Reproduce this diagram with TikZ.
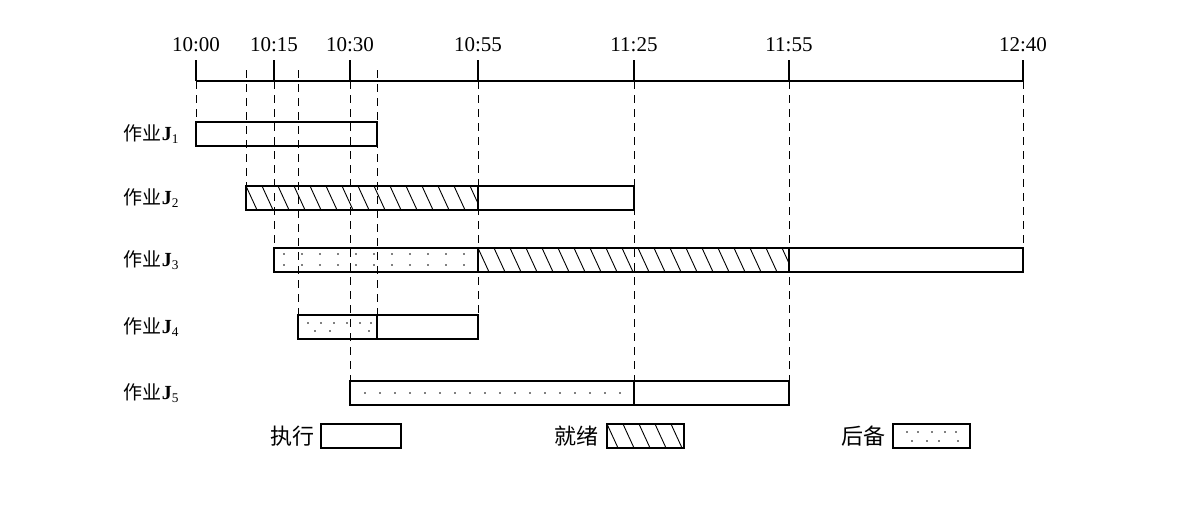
\documentclass[tikz,border=0pt]{standalone}
\usepackage{fontspec}
\setmainfont{Liberation Serif}
\newfontfamily\cjk{Noto Sans CJK SC}
\usetikzlibrary{positioning}

% ready state: hatching inside the box (x1,y1)--(x2,y2)
\newcommand{\hatchfill}[4]{%
  \begin{scope}
    \clip (#1,#2) rectangle (#3,#4);
    \foreach \i in {0,...,20}
      \draw[hatch] ({#1+16*\i},#2) -- ({#1+16*\i+0.46*(#4-#2)},#4);
  \end{scope}}

\begin{document}
\begin{tikzpicture}[x=0.5pt, y=-0.5pt]
  \tikzset{
    bar/.style={draw, line width=1pt},
    guide/.style={dash pattern=on 4pt off 3pt, line width=0.45pt},
    hatch/.style={line width=0.45pt},
    axis/.style={line width=0.7pt},
    timelab/.style={font=\fontsize{10.5}{12}\selectfont, inner sep=0pt},
    joblab/.style={font=\fontsize{9.5}{11}\selectfont, anchor=east, inner sep=0pt},
    keylab/.style={font=\fontsize{11}{12}\selectfont, anchor=east, inner sep=0pt},
    dot/.style={fill=black},
  }
  \useasboundingbox (0,0) rectangle (1179,509);

  % Time axis
  \draw[axis] (196,81) -- (1023,81);
  \foreach \x/\t in {196/10:00, 274/10:15, 350/10:30, 478/10:55, 634/11:25, 789/11:55, 1023/12:40} {
    \draw[axis] (\x,60) -- (\x,81);
    \node[timelab] (T\x) at (\x,45) {\t};
  }

  % Dashed guides (x / start / end)
  \foreach \x/\ya/\yb in {196/81/122, 246/70/186, 274/81/248, 298/70/315, 350/81/381,
                          377/70/315, 478/81/315, 634/81/381, 789/81/381, 1023/81/248}
    \draw[guide] (\x,\ya) -- (\x,\yb);

  % Job labels
  \foreach \n/\y in {1/134, 2/198, 3/260, 4/327, 5/393}
    \node[joblab] (J\n) at (180,\y) {{\cjk 作业}{\fontsize{10}{12}\selectfont\textbf{J}}\textsubscript{\n}};

  % J1
  \draw[bar] (196,122) rectangle (377,146);
  % J2
  \hatchfill{246}{186}{478}{210}
  \draw[bar] (246,186) rectangle (634,210);
  \draw[bar] (478,186) -- (478,210);
  % J3
  \foreach \dx in {284,302,...,470}
    \foreach \dy in {254,265}
      \fill[dot] (\dx,\dy) circle (0.4pt);
  \hatchfill{478}{248}{789}{272}
  \draw[bar] (274,248) rectangle (1023,272);
  \draw[bar] (478,248) -- (478,272);
  \draw[bar] (789,248) -- (789,272);
  % J4
  \foreach \dx in {308,321,334,347,360,371}
    \fill[dot] (\dx,323) circle (0.4pt);
  \foreach \dx in {315,330,369}
    \fill[dot] (\dx,331) circle (0.4pt);
  \draw[bar] (298,315) rectangle (478,339);
  \draw[bar] (377,315) -- (377,339);
  % J5
  \foreach \dx in {365,380,...,620}
    \fill[dot] (\dx,393) circle (0.4pt);
  \draw[bar] (350,381) rectangle (789,405);
  \draw[bar] (634,381) -- (634,405);

  % Legend
  \node[keylab] (Lrun) at (315,436) {\cjk 执行};
  \draw[bar] (321,424) rectangle (401,448);
  \node[keylab] (Lready) at (599,436) {\cjk 就绪};
  \hatchfill{607}{424}{684}{448}
  \draw[bar] (607,424) rectangle (684,448);
  \node[keylab] (Lwait) at (886,436) {\cjk 后备};
  \foreach \dx in {907,918,932,945,956}
    \fill[dot] (\dx,432) circle (0.4pt);
  \foreach \dx in {912,927,939,958}
    \fill[dot] (\dx,441) circle (0.4pt);
  \draw[bar] (893,424) rectangle (970,448);
\end{tikzpicture}
\end{document}
